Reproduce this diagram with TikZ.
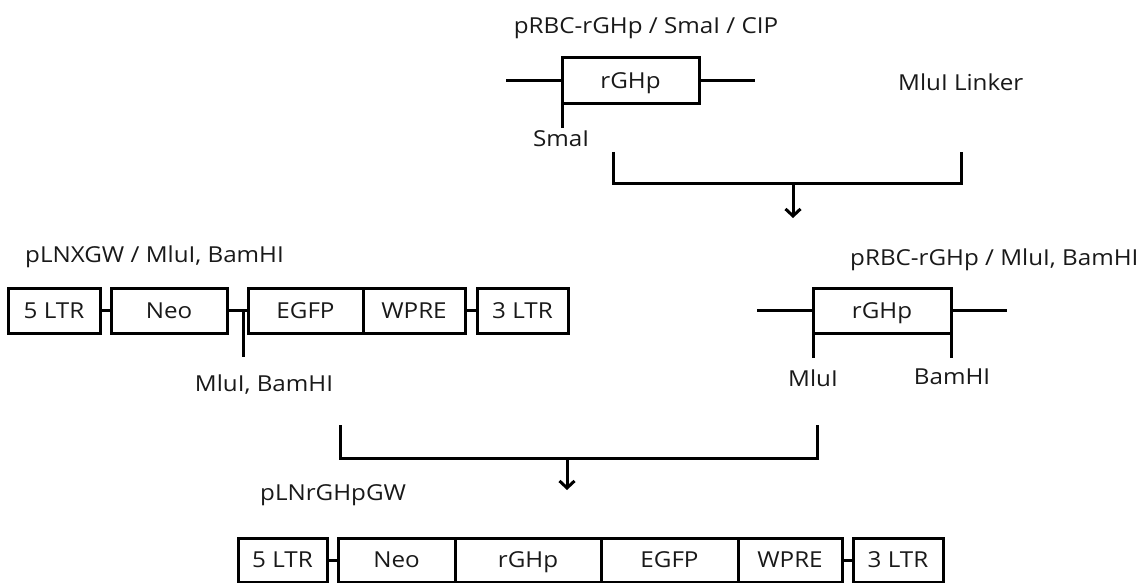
\documentclass[tikz,border=0pt]{standalone}
\usepackage{fontspec}
\setmainfont{Open Sans}[FakeStretch=1.1]
\usetikzlibrary{arrows.meta}
\tikzset{
  txt/.style={inner sep=0pt, text=black!90, font=\fontsize{22}{26}\selectfont, text height=15.7pt, text depth=0pt},
  gene/.style={txt, draw=black, line width=3pt, outer sep=0pt, anchor=west, minimum height=45pt},
  wire/.style={draw=black, line width=3pt},
  arr/.style={wire, -{Straight Barb[length=7pt,width=15pt,line width=3pt]}}
}
\begin{document}
\begin{tikzpicture}[x=1pt,y=-1pt]
\useasboundingbox (0,0) rectangle (1138,583);
% ---------- top: pRBC-rGHp / SmaI / CIP ----------
\node[txt] (t1) at (646,25.5) {pRBC-rGHp / SmaI / CIP};
\node[gene, minimum width=137pt, minimum height=46pt] (r1) at (562,81) {rGHp};
\coordinate (a1) at (506,81);
\coordinate (a2) at (755,81);
\draw[wire] (a1) -- (r1.west);
\draw[wire] (r1.east) -- (a2);
\coordinate (sm) at (562,128);
\draw[wire] (r1.south west) -- (r1.south west |- sm);
\node[txt] (smai) at (561,139) {SmaI};
\node[txt, anchor=west] (link) at (898,83) {MluI Linker};
% bracket 1
\coordinate (c1) at (613,152);
\coordinate (c2) at (961,152);
\coordinate (m1) at (793,183);
\coordinate (e1) at (793,218);
\draw[wire] (c1) |- (m1) -| (c2);
\draw[arr] (m1) -- (e1);
% ---------- middle left: pLNXGW ----------
\node[txt, anchor=west] (t2) at (25,254.5) {pLNXGW / MluI, BamHI};
\node[gene, minimum width=92pt] (L5) at (8,310.5) {5 LTR};
\node[gene, minimum width=116pt] (Neo) at (111,310.5) {Neo};
\node[gene, minimum width=115pt] (EGFP) at (248,310.5) {EGFP};
\node[gene, minimum width=102pt] (WPRE) at (363,310.5) {WPRE};
\node[gene, minimum width=91pt] (L3) at (477,310.5) {3 LTR};
\draw[wire] (L5.east) -- (Neo.west);
\draw[wire] (Neo.east) -- (EGFP.west);
\draw[wire] (WPRE.east) -- (L3.west);
\coordinate (tk) at (243,357);
\draw[wire] (tk |- Neo.east) -- (tk);
\node[txt] (mb) at (264,384) {MluI, BamHI};
% ---------- middle right: pRBC-rGHp / MluI, BamHI ----------
\node[txt, anchor=west] (t3) at (850,258) {pRBC-rGHp / MluI, BamHI};
\node[gene, minimum width=138pt] (r2) at (813,310.5) {rGHp};
\coordinate (a3) at (757,310.5);
\coordinate (a4) at (1007,310.5);
\draw[wire] (a3) -- (r2.west);
\draw[wire] (r2.east) -- (a4);
\coordinate (k1) at (813,358);
\draw[wire] (r2.south west) -- (r2.south west |- k1);
\draw[wire] (r2.south east) -- (r2.south east |- k1);
\node[txt] (mlu) at (813,379) {MluI};
\node[txt] (bam) at (952,377) {BamHI};
% bracket 2
\coordinate (c3) at (340,425);
\coordinate (c4) at (817,425);
\coordinate (m2) at (567,458);
\coordinate (e2) at (567,490);
\draw[wire] (c3) |- (m2) -| (c4);
\draw[arr] (m2) -- (e2);
% ---------- bottom: pLNrGHpGW ----------
\node[txt, anchor=west] (t4) at (260,492.5) {pLNrGHpGW};
\node[gene, minimum width=89pt, minimum height=44pt] (B5) at (238,560) {5 LTR};
\node[gene, minimum width=117pt, minimum height=44pt] (BNeo) at (338,560) {Neo};
\node[gene, minimum width=146pt, minimum height=44pt] (BrGHp) at (455,560) {rGHp};
\node[gene, minimum width=137pt, minimum height=44pt] (BEGFP) at (601,560) {EGFP};
\node[gene, minimum width=104pt, minimum height=44pt] (BWPRE) at (738,560) {WPRE};
\node[gene, minimum width=90pt, minimum height=44pt] (B3) at (853,560) {3 LTR};
\draw[wire] (B5.east) -- (BNeo.west);
\draw[wire] (BWPRE.east) -- (B3.west);
\end{tikzpicture}
\end{document}
